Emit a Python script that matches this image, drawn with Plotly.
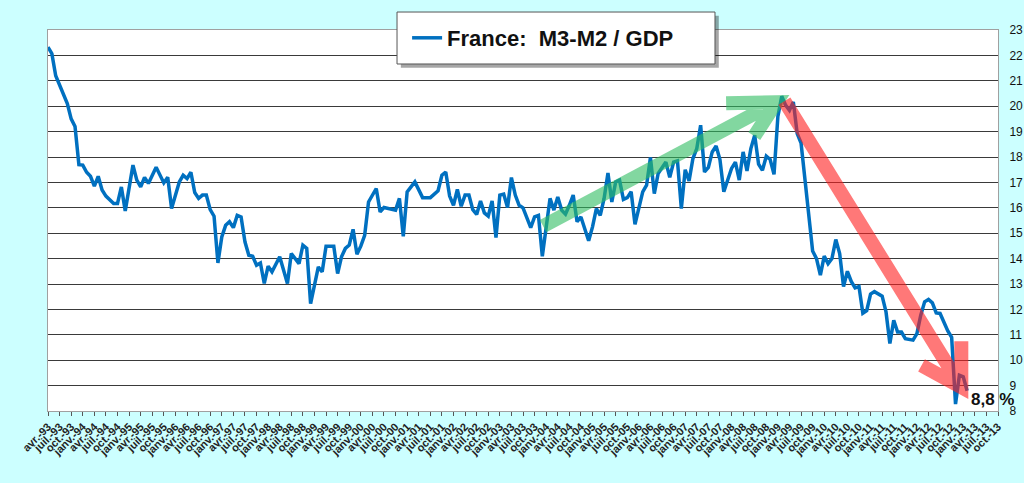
import plotly.graph_objects as go

# ---- data ----
# month offset from April 1993 (0 = avr.-93)
months_since_apr93 = [
    0, 1, 2, 3, 5, 6, 7, 8, 9, 10, 11, 12, 13, 14, 15, 17, 18, 19, 20, 22,
    23, 24, 25, 26, 28, 30, 31, 32, 34, 35, 36, 37, 38, 39, 40, 41, 42, 43, 44, 45,
    46, 47, 48, 49, 50, 51, 52, 53, 54, 55, 56, 57, 58, 60, 61, 62, 63, 65, 66, 67,
    68, 70, 71, 72, 74, 75, 76, 77, 78, 79, 80, 81, 82, 83, 85, 86, 87, 90, 91, 92,
    93, 94, 95, 97, 99, 101, 102, 103, 104, 105, 106, 107, 108, 109, 110, 111, 112, 113, 114, 115,
    116, 117, 118, 119, 120, 121, 122, 123, 125, 126, 127, 128, 129, 130, 131, 132, 133, 134, 135, 136,
    137, 138, 140, 141, 142, 143, 144, 145, 146, 147, 148, 149, 150, 151, 152, 153, 154, 155, 156, 157,
    158, 160, 161, 162, 163, 164, 165, 166, 167, 168, 169, 170, 171, 172, 173, 174, 175, 177, 178, 179,
    180, 181, 182, 183, 184, 185, 186, 187, 188, 189, 190, 191, 192, 193, 194, 195, 196, 197, 198, 199,
    200, 201, 202, 203, 204, 205, 206, 207, 208, 209, 210, 211, 212, 213, 214, 216, 217, 218, 219, 220,
    221, 222, 224, 225, 226, 227, 228, 229, 230, 231, 232, 233, 234, 235, 236, 237, 238,
]
m3_m2_gdp = [
    22.33, 22.07, 21.2, 20.83, 20.1, 19.5, 19.2, 17.7, 17.68, 17.4, 17.24, 16.85, 17.24, 16.7, 16.46, 16.17, 16.17, 16.82, 15.88, 17.68,
    17.09, 16.82, 17.2, 16.96, 17.6, 16.98, 17.2, 15.97, 17.02, 17.28, 17.15, 17.4, 16.6, 16.37, 16.5, 16.5, 15.93, 15.67, 13.83, 14.85,
    15.31, 15.45, 15.22, 15.7, 15.64, 14.66, 14.13, 14.09, 13.74, 13.83, 13.02, 13.7, 13.48, 14.07, 13.48, 13.02, 14.2, 13.8, 14.53, 14.4,
    12.23, 13.67, 13.48, 14.49, 14.49, 13.41, 14.07, 14.4, 14.53, 15.15, 14.17, 14.49, 14.92, 16.23, 16.76, 15.84, 16.01, 15.91, 16.37, 14.88,
    16.63, 16.82, 17.02, 16.4, 16.4, 16.67, 17.28, 17.41, 16.46, 16.1, 16.72, 16.06, 16.5, 16.5, 15.93, 15.74, 16.27, 15.8, 15.67, 16.27,
    14.83, 16.5, 16.54, 16.01, 17.19, 16.5, 16.1, 16.0, 15.22, 15.64, 15.7, 14.09, 15.25, 16.37, 15.91, 16.43, 15.91, 15.75, 16.1, 16.5,
    15.45, 15.64, 14.7, 15.25, 15.97, 15.7, 16.37, 17.37, 16.23, 17.02, 17.09, 16.33, 16.4, 16.63, 15.35, 16.06, 16.63, 16.89, 17.98, 16.56,
    17.35, 17.8, 17.2, 17.8, 17.85, 15.97, 17.5, 17.06, 17.94, 18.33, 19.25, 17.41, 17.59, 18.2, 18.43, 17.9, 16.63, 17.55, 17.8, 17.09,
    18.2, 17.45, 18.33, 18.86, 17.72, 17.48, 18.03, 17.9, 17.32, 19.6, 20.39, 20.04, 19.84, 20.17, 18.92, 18.55, 17.1, 15.78, 14.3, 14.0,
    13.35, 14.1, 13.8, 14.0, 14.75, 14.2, 12.9, 13.5, 13.1, 12.85, 12.9, 11.85, 11.95, 12.6, 12.7, 12.52, 11.9, 10.66, 11.57, 11.11,
    11.11, 10.85, 10.79, 11.05, 11.77, 12.3, 12.39, 12.26, 11.86, 11.84, 11.5, 11.15, 10.9, 8.27, 9.41, 9.35, 8.8,
]
series_name = "France:\u00a0\u00a0M3-M2 / GDP"
last_value_label = "8,8 %"

# quarterly category ticks: avr.-93 ... oct.-13
quarter_names = {1: "janv.", 4: "avr.", 7: "juil.", 10: "oct."}
tick_months = list(range(0, 247, 3))
tick_labels = []
for m in tick_months:
    month = (3 + m) % 12 + 1
    year = 1993 + (3 + m) // 12
    tick_labels.append(f"{quarter_names[month]}-{year % 100:02d}")

y_ticks = list(range(8, 24))

# trend arrows (month offset, value) – drawn as annotations on top
green_shaft = [(128.2, 15.28), (188.6, 20.16)]
green_barbs = [(175.6, 20.12), (182.9, 18.82)]
red_shaft = [(190.7, 20.2), (236.5, 8.94)]
red_barbs = [(236.5, 10.75), (226.2, 9.8)]

# ---- figure ----
fig = go.Figure()
fig.add_trace(go.Scatter(
    x=months_since_apr93, y=m3_m2_gdp, mode="lines", name=series_name,
    line=dict(color="#0070C0", width=3.5),
))


def arrow_path(shaft, barbs):
    (x0, y0), (x1, y1) = shaft
    (ax, ay), (bx, by) = barbs
    return (f"M{x0},{y0} L{x1},{y1} M{ax},{ay} L{x1},{y1} L{bx},{by}")


fig.add_shape(type="path", xref="x", yref="y", layer="above",
              path=arrow_path(green_shaft, green_barbs),
              line=dict(color="rgba(47,188,97,0.6)", width=14))
fig.add_shape(type="path", xref="x", yref="y", layer="above",
              path=arrow_path(red_shaft, red_barbs),
              line=dict(color="rgba(255,30,30,0.6)", width=14))

# legend box (with shadow)
bx0, bx1, by0, by1 = 0.3674, 0.7021, 0.9108, 1.0472
fig.add_shape(type="rect", xref="paper", yref="paper", layer="above",
              x0=bx0 + 0.004, x1=bx1 + 0.004, y0=by0 - 0.01, y1=by1 - 0.01,
              fillcolor="rgba(0,0,0,0.35)", line=dict(width=0))
fig.add_shape(type="rect", xref="paper", yref="paper", layer="above",
              x0=bx0, x1=bx1, y0=by0, y1=by1,
              fillcolor="white", line=dict(color="#555555", width=1))

fig.add_annotation(x=months_since_apr93[-1] + 0.6, y=8.45,
                   xref="x", yref="y", text=last_value_label, showarrow=False,
                   xanchor="left", yanchor="middle",
                   font=dict(family="Liberation Sans", size=17, color="#111111", weight="bold"))

fig.update_layout(
    width=1024, height=483, autosize=False,
    margin=dict(l=48, r=26, t=30, b=72),
    paper_bgcolor="#CCFFFF", plot_bgcolor="white",
    showlegend=True,
    legend=dict(x=0.378, y=0.979, xanchor="left", yanchor="middle",
                bgcolor="rgba(0,0,0,0)", borderwidth=0,
                font=dict(family="Liberation Sans", size=22, color="#111111", weight="bold")),
    font=dict(family="Liberation Sans", color="#222222"),
)
fig.update_xaxes(
    range=[0, 246], tickmode="array", tickvals=tick_months, ticktext=tick_labels,
    tickangle=-45, ticks="outside", ticklen=4, tickcolor="#555555",
    showgrid=False, zeroline=False, showline=True, linecolor="#A0A0A0", mirror=True,
    automargin=False,
    tickfont=dict(family="Liberation Sans", size=11, color="#222222", weight="bold"),
)
fig.update_yaxes(
    range=[8, 23], tickmode="array", tickvals=y_ticks, side="right",
    showgrid=True, gridcolor="#3a3a3a", gridwidth=1, zeroline=False,
    showline=True, linecolor="#A0A0A0", mirror=True, ticks="",
    ticklabelstandoff=8, automargin=False,
    tickfont=dict(family="Liberation Sans", size=12, color="#111111"),
)

fig.write_html("out.html", include_plotlyjs=True,
               config={"displayModeBar": False},
               post_script="document.body.style.margin='0';document.body.style.overflow='hidden';")
